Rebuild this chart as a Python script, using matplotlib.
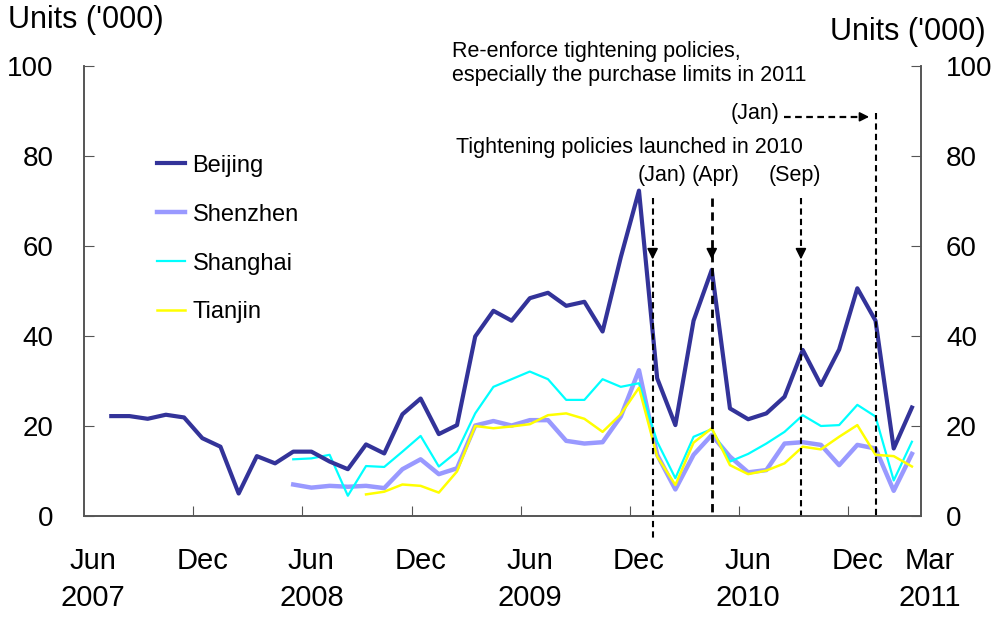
import numpy as np
import matplotlib
matplotlib.use('Agg')
import matplotlib.pyplot as plt
import matplotlib.transforms as mtransforms

plt.rcParams['font.family'] = ['Liberation Sans', 'DejaVu Sans']

nan = np.nan

# monthly, Jun 2007 .. Mar 2011
months = np.arange(46)

beijing = [nan,
           22.2, 22.2, 21.6, 22.5, 21.9, 17.3,
           15.4, 5.0, 13.3, 11.7, 14.3, 14.3, 12.1, 10.4, 15.9, 13.9, 22.6, 26.1,
           18.2, 20.2, 39.9, 45.6, 43.4, 48.4, 49.6, 46.7, 47.6, 41.0, 57.5, 72.3,
           30.6, 20.2, 43.4, 54.7, 23.9, 21.5, 22.8, 26.5, 36.9, 29.1, 37.0, 50.6,
           43.4, 15.0, 24.1]
shenzhen = [nan] * 11 + [
           7.0, 6.3, 6.7, 6.5, 6.7, 6.2, 10.4, 12.6,
           9.3, 10.6, 20.1, 21.1, 20.1, 21.3, 21.3, 16.7, 16.1, 16.4, 22.1, 32.4,
           13.6, 5.9, 13.6, 18.0, 13.2, 9.7, 10.2, 16.1, 16.4, 15.8, 11.3, 15.8,
           15.0, 5.6, 13.8]
shanghai = [nan] * 11 + [
           12.6, 12.8, 13.6, 4.5, 11.1, 10.9, 14.3, 17.8,
           11.0, 14.3, 22.8, 28.7, 30.4, 32.1, 30.4, 25.8, 25.8, 30.4, 28.7, 29.5,
           16.5, 8.4, 17.6, 19.3, 12.1, 13.8, 16.1, 18.7, 22.4, 20.0, 20.2, 24.7,
           22.1, 7.9, 16.5]
tianjin = [nan] * 15 + [
           4.8, 5.4, 7.0, 6.7,
           5.2, 9.9, 20.0, 19.5, 19.9, 20.4, 22.4, 22.8, 21.6, 18.7, 22.6, 28.5,
           13.2, 6.9, 16.3, 19.5, 11.3, 9.3, 10.1, 11.7, 15.4, 14.8, 17.6, 20.2,
           13.6, 13.3, 11.0]

tick_bounds = [5.5, 11.5, 17.5, 23.5, 29.5, 35.5, 41.5]
label_pos = [0, 6, 12, 18, 24, 30, 36, 42, 46.0]
labels = ['Jun\n2007', 'Dec', 'Jun\n2008', 'Dec', 'Jun\n2009', 'Dec', 'Jun\n2010', 'Dec', 'Mar\n2011']

# policy dates (Jan 2010, Apr 2010, Sep 2010, Jan 2011)
policy_x = [30.75, 34.0, 38.9, 43.0]

fig = plt.figure(figsize=(10.01, 6.19), dpi=100)
ax = fig.add_axes([0.0839, 0.1664, 0.8362, 0.727])

ax.plot(months, shenzhen, color='#9999ff', lw=3.2, label='Shenzhen', zorder=3)
ax.plot(months, shanghai, color='#00ffff', lw=1.6, label='Shanghai', zorder=4)
ax.plot(months, tianjin, color='#ffff00', lw=1.8, label='Tianjin', zorder=5)
ax.plot(months, beijing, color='#333399', lw=3.0, label='Beijing', zorder=6)

ax.set_xlim(-0.5, 45.5)
ax.set_ylim(0, 100)
ax.set_yticks(range(0, 101, 20))
ax.set_xticks(tick_bounds)
ax.set_xticklabels([])
ax.tick_params(axis='x', which='major', direction='in', length=7, color='#555555')
ax.tick_params(axis='y', direction='in', length=7, color='#555555', labelsize=20, pad=22)
xtrans = mtransforms.blended_transform_factory(ax.transData, ax.transAxes)
for pos, lab in zip(label_pos, labels):
    ax.text(pos, -0.068, lab, transform=xtrans, ha='center', va='top', fontsize=21, linespacing=1.45)

ax2 = ax.twinx()
ax2.set_ylim(0, 100)
ax2.set_yticks(range(0, 101, 20))
ax2.tick_params(axis='y', direction='in', length=7, color='#555555', labelsize=20, pad=18)

for a in (ax, ax2):
    for s in a.spines.values():
        s.set_color('#555555')
        s.set_linewidth(1.2)
    a.spines['top'].set_visible(False)

# policy lines
dash = (0, (3, 2))
ax.plot([policy_x[0]] * 2, [70.7, -5.3], color='k', lw=1.5, ls=dash, clip_on=False, zorder=7)
ax.plot([policy_x[1]] * 2, [70.7, 0], color='k', lw=2.0, ls=dash, zorder=7)
ax.plot([policy_x[2]] * 2, [70.7, 0], color='k', lw=1.5, ls=dash, zorder=7)
ax.plot([policy_x[3]] * 2, [89.6, 0], color='k', lw=1.5, ls=dash, zorder=7)
for px in policy_x[:3]:
    ax.annotate('', xy=(px, 56.4), xytext=(px, 59.5),
                arrowprops=dict(arrowstyle='-|>', color='k', lw=1.2, mutation_scale=16), zorder=8)
ax.plot([37.95, 42.3], [88.7, 88.7], color='k', lw=1.6, ls=dash, zorder=7)
ax.annotate('', xy=(42.8, 88.7), xytext=(42.2, 88.7),
            arrowprops=dict(arrowstyle='-|>', color='k', lw=1.2, mutation_scale=14), zorder=8)

def fx(px):
    return px / 1001

def fy(py):
    return 1 - py / 619

fs = 15.5
fig.text(fx(452), fy(52), 'Re-enforce tightening policies,', fontsize=fs, va='center')
fig.text(fx(452), fy(76), 'especially the purchase limits in 2011', fontsize=fs, va='center')
fig.text(fx(779), fy(113), '(Jan)', fontsize=fs, va='center', ha='right')
fig.text(fx(456), fy(147), 'Tightening policies launched in 2010', fontsize=fs, va='center')
fig.text(fx(662), fy(175), '(Jan)', fontsize=fs, va='center', ha='center')
fig.text(fx(716), fy(175), '(Apr)', fontsize=fs, va='center', ha='center')
fig.text(fx(795), fy(175), '(Sep)', fontsize=fs, va='center', ha='center')

fig.text(fx(8), fy(20), "Units ('000)", fontsize=22, va='center')
fig.text(fx(986), fy(32), "Units ('000)", fontsize=22, va='center', ha='right')

handles, names = ax.get_legend_handles_labels()
order = [3, 0, 1, 2]
ax.legend([handles[i] for i in order], [names[i] for i in order],
          loc='upper left', bbox_to_anchor=(0.062, 0.85), frameon=False, fontsize=17,
          handlelength=1.2, handletextpad=0.3, labelspacing=1.14)

fig.savefig('out.png', dpi=100)
